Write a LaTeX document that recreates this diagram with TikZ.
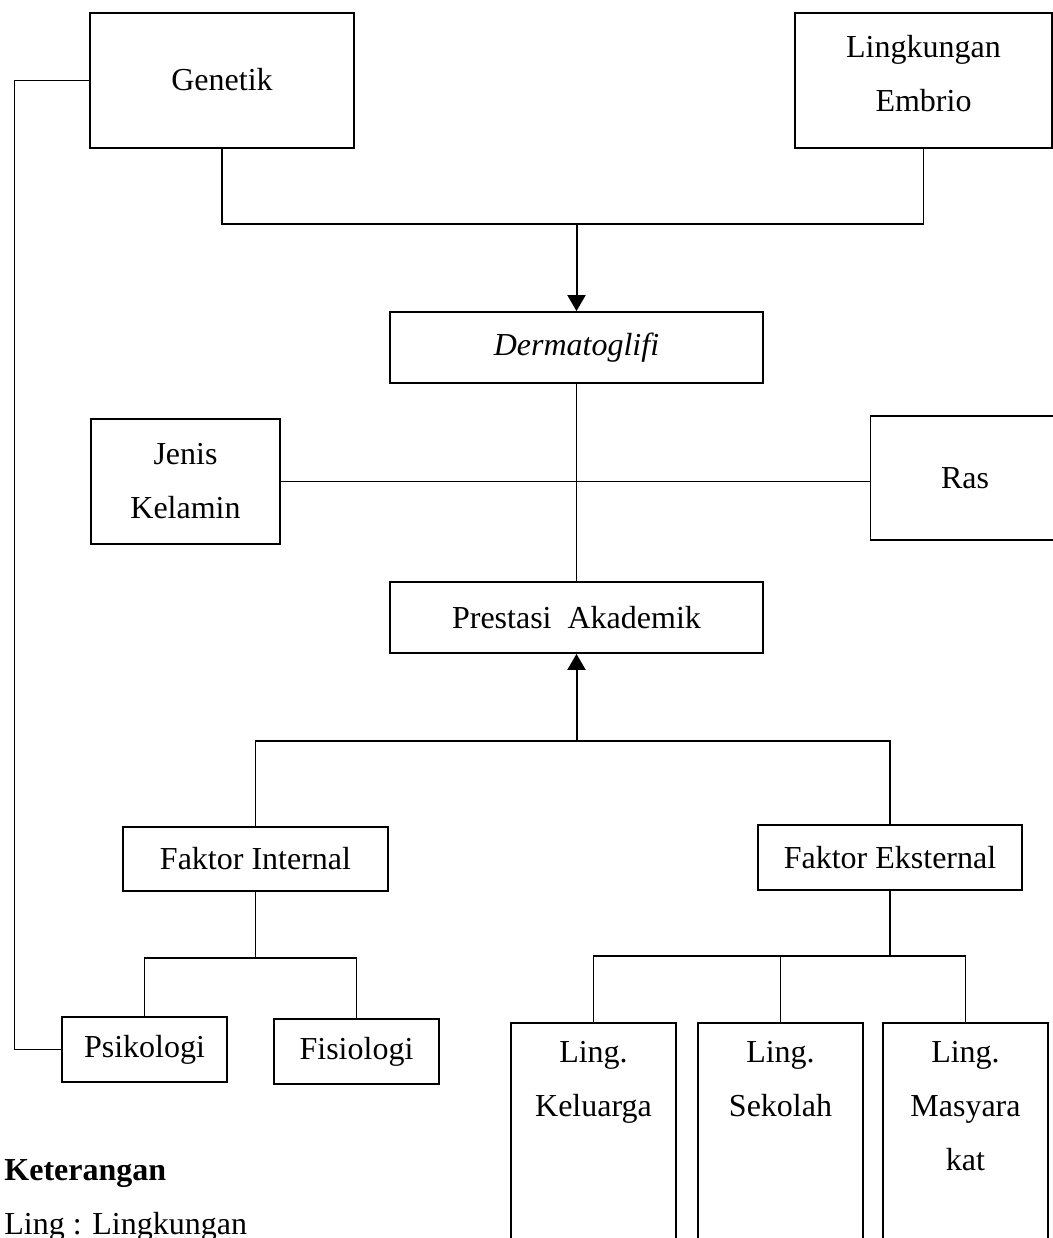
\documentclass[tikz,border=0pt]{standalone}
\usepackage{fontspec}
\setmainfont{Liberation Serif}
\usetikzlibrary{arrows.meta,positioning,calc}

\tikzset{
  box/.style={draw,line width=0.9pt,inner sep=0pt,align=center,font=\fontsize{16}{27}\selectfont},
  txt/.style={inner sep=0pt,align=center,font=\fontsize{16}{27}\selectfont},
  conn/.style={line width=0.6pt},
  link/.style={line width=0.9pt},
  arr/.style={line width=1pt,-{Triangle[length=8pt,width=9pt]}}
}

\begin{document}
\begin{tikzpicture}[x=0.5pt,y=-0.5pt]
  \clip (0,0) rectangle (1053,1238);
  \node[box,minimum width=132pt,minimum height=67.5pt] (gen) at (222,80.5) {\raisebox{1.5pt}{Genetik}};
  \node[box,minimum width=128.5pt,minimum height=67.5pt,
    label={[txt,yshift=3.5pt]center:Lingkungan\\Embrio}] (emb) at (923.5,80.5) {};
  \node[box,minimum width=186.5pt,minimum height=35.5pt] (derm) at (576.5,347.5) {\textit{Dermatoglifi}};
  \node[box,minimum width=94.5pt,minimum height=62.5pt] (jk) at (185.5,481.5) {Jenis\\Kelamin};
  \node[box,minimum width=94.5pt,minimum height=62pt] (ras) at (965,478) {Ras};
  \node[box,minimum width=186.5pt,minimum height=35.5pt] (pres) at (576.5,617.5) {Prestasi\ \ Akademik};
  \node[box,minimum width=132.5pt,minimum height=32pt] (fint) at (255.5,859) {Faktor Internal};
  \node[box,minimum width=132pt,minimum height=32.5pt] (feks) at (890,857.5) {Faktor Eksternal};
  \node[box,minimum width=82.5pt,minimum height=32.5pt] (psi) at (144.5,1049.5) {Psikologi};
  \node[box,minimum width=82.5pt,minimum height=32.5pt] (fis) at (356.5,1051.5) {Fisiologi};
  \node[box,minimum width=82.5pt,minimum height=138.5pt,
    label={[txt,anchor=north,yshift=-9.5pt]north:Ling.\\Keluarga}] (kel) at (593.5,1161.5) {};
  \node[box,minimum width=82.5pt,minimum height=138.5pt,
    label={[txt,anchor=north,yshift=-9.5pt]north:Ling.\\Sekolah}] (sek) at (780.5,1161.5) {};
  \node[box,minimum width=82.5pt,minimum height=138.5pt,
    label={[txt,anchor=north,yshift=-9.5pt]north:Ling.\\Masyara\\kat}] (mas) at (965.5,1161.5) {};

  \coordinate (bus1) at (576.5,224);
  \coordinate (bus2) at (576.5,741);
  \coordinate (bus3) at (255.5,958);
  \coordinate (bus4) at (890,956);

  \draw[conn] (gen.south) |- (bus1) -| (emb.south);
  \draw[arr] (bus1) -- (derm.north);
  \draw[conn] (derm.south) -- (pres.north);
  \draw[link] (jk.east) -- (jk.east -| ras.west);
  \draw[arr] (bus2) -- (pres.south);
  \draw[conn] (fint.north) |- (bus2) -| (feks.north);
  \draw[conn] (fint.south) -- (bus3);
  \draw[conn] (psi.north) |- (bus3) -| (fis.north);
  \draw[link] (feks.south) -- (bus4);
  \draw[conn] (kel.north) |- (bus4) -| (mas.north);
  \draw[conn] (sek.north) -- (sek.north |- bus4);
  \draw[conn] (gen.west) -- ++(-75,0) |- (psi.west);

  \node[txt,anchor=base west,font=\fontsize{16}{27}\selectfont\bfseries] (ket) at (4,1180) {Keterangan};
  \node[txt,anchor=base west] (ling) at (4,1234) {Ling : Lingkungan};
\end{tikzpicture}
\end{document}
